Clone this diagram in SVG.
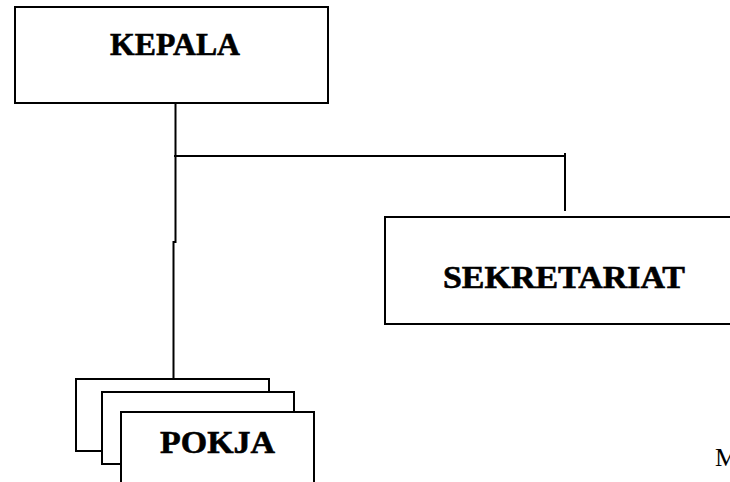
<svg xmlns="http://www.w3.org/2000/svg" width="730" height="482" viewBox="0 0 730 482">
<style>
.box{fill:#fff;stroke:#000;stroke-width:2}
.lbl{font-family:"Liberation Serif","DejaVu Serif",serif;font-weight:bold;font-size:32px;fill:#000;stroke:#000;stroke-width:0.6}
.conn{fill:none;stroke:#000;stroke-width:2}
.txt{font-family:"Liberation Serif","DejaVu Serif",serif;font-size:26px;fill:#000}
</style>
<rect width="730" height="482" fill="#fff"/>
<g id="connectors">
<path class="conn" d="M175.5 103 V242 H173.5 V379"/>
<path class="conn" d="M174 156 H565"/>
<path class="conn" d="M565 153 V211"/>
</g>
<g id="kepala">
<rect class="box" x="15" y="7" width="313" height="96"/>
<text class="lbl" x="110" y="55" textLength="130" lengthAdjust="spacingAndGlyphs">KEPALA</text>
</g>
<g id="sekretariat">
<rect class="box" x="385" y="217" width="360" height="107"/>
<text class="lbl" x="443" y="288" textLength="242" lengthAdjust="spacingAndGlyphs">SEKRETARIAT</text>
</g>
<g id="pokja">
<rect class="box" x="76" y="379" width="193" height="72"/>
<rect class="box" x="102" y="392" width="192" height="72"/>
<rect class="box" x="121" y="412" width="193" height="80"/>
<text class="lbl" x="160" y="453" textLength="115" lengthAdjust="spacingAndGlyphs">POKJA</text>
</g>
<text class="txt" x="715" y="466">M</text>
</svg>
